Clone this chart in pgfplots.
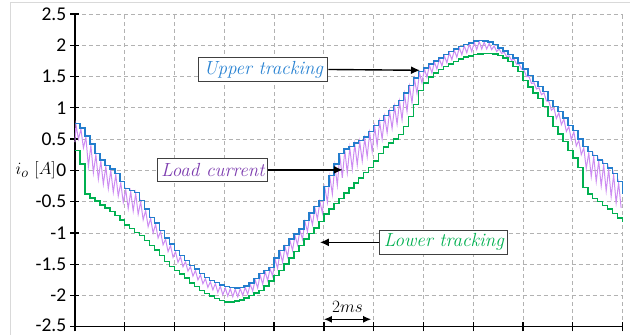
\documentclass[border=0pt]{standalone}
\usepackage{pgfplots}
\pgfplotsset{compat=1.18}
\usepackage{fontspec}
\newfontfamily\carlito{Carlito}
\usetikzlibrary{arrows.meta}
\definecolor{blueline}{RGB}{35,125,205}
\definecolor{greenline}{RGB}{0,176,80}
\definecolor{pinkline}{RGB}{205,140,242}
\definecolor{bluetext}{RGB}{40,130,210}
\definecolor{purpletext}{RGB}{125,60,175}
\definecolor{greentext}{RGB}{0,176,80}
\newcommand{\tl}[1]{{\carlito\fontsize{19.5}{19.5}\selectfont #1}}
\begin{document}
\begin{tikzpicture}
\begin{axis}[
  width=548pt, height=313pt, scale only axis,
  xmin=0, xmax=22, ymin=-2.5, ymax=2.5,
  xtick={0,2,...,22}, xticklabels={},
  ytick={-2.5,-2,-1.5,-1,-0.5,0,0.5,1,1.5,2,2.5},
  yticklabels={\raisebox{3pt}{\tl{-2.5}},\tl{-2},\tl{-1.5},\tl{-1},\tl{-0.5},\tl{0},\tl{0.5},\tl{1},\tl{1.5},\tl{2},\tl{2.5}},
  yticklabel style={inner sep=4pt},
  axis lines*=left,
  axis line style={black, line width=1.3pt},
  tick style={black, line width=1.3pt},
  tick align=center, major tick length=9pt,
  grid=major,
  major grid style={black!30, dash pattern=on 4pt off 3pt, line width=0.8pt},
  clip=false,
]
% load current
\addplot[pinkline, line width=1pt] coordinates {
(0,0.45) (0.04,0.73) (0.14,0.50) (0.24,0.66) (0.34,0.36) (0.44,0.53) (0.54,0.06) (0.64,0.40) (0.74,-0.04)
(0.84,0.25) (0.94,-0.14) (1.04,0.15) (1.14,-0.22) (1.24,0.06) (1.34,-0.29) (1.44,0.00) (1.54,-0.35)
(1.64,-0.07) (1.74,-0.41) (1.84,-0.20) (1.94,-0.51) (2.04,-0.31) (2.14,-0.61) (2.24,-0.34) (2.34,-0.65)
(2.44,-0.37) (2.54,-0.70) (2.64,-0.50) (2.74,-0.79) (2.84,-0.64) (2.94,-0.90) (3.04,-0.77) (3.14,-1.00)
(3.24,-0.86) (3.34,-1.08) (3.44,-0.98) (3.54,-1.19) (3.64,-1.10) (3.74,-1.30) (3.84,-1.20) (3.94,-1.39)
(4.04,-1.30) (4.14,-1.47) (4.24,-1.38) (4.34,-1.54) (4.44,-1.46) (4.54,-1.61) (4.64,-1.54) (4.74,-1.69)
(4.84,-1.60) (4.94,-1.75) (5.04,-1.67) (5.14,-1.81) (5.24,-1.73) (5.34,-1.87) (5.44,-1.78) (5.54,-1.91)
(5.64,-1.81) (5.74,-1.95) (5.84,-1.85) (5.94,-1.99) (6.04,-1.88) (6.14,-2.01) (6.24,-1.89) (6.34,-2.02)
(6.44,-1.90) (6.54,-2.02) (6.64,-1.89) (6.74,-2.00) (6.84,-1.87) (6.94,-1.98) (7.04,-1.82) (7.14,-1.93)
(7.24,-1.75) (7.34,-1.88) (7.44,-1.67) (7.54,-1.82) (7.64,-1.62) (7.74,-1.76) (7.84,-1.57) (7.94,-1.69)
(8.04,-1.42) (8.14,-1.57) (8.24,-1.30) (8.34,-1.47) (8.44,-1.22) (8.54,-1.38) (8.64,-1.12) (8.74,-1.28)
(8.84,-1.04) (8.94,-1.19) (9.04,-0.96) (9.14,-1.10) (9.24,-0.82) (9.34,-0.98) (9.44,-0.70) (9.54,-0.87)
(9.64,-0.60) (9.74,-0.78) (9.84,-0.50) (9.94,-0.68) (10.04,-0.28) (10.14,-0.51) (10.24,-0.10) (10.34,-0.38)
(10.44,0.08) (10.54,-0.24) (10.64,0.25) (10.74,-0.12) (10.84,0.32) (10.94,-0.04) (11.04,0.36) (11.14,0.02)
(11.24,0.42) (11.34,0.09) (11.44,0.46) (11.54,0.15) (11.64,0.51) (11.74,0.22) (11.84,0.60) (11.94,0.30)
(12.04,0.70) (12.14,0.40) (12.24,0.78) (12.34,0.50) (12.44,0.86) (12.54,0.60) (12.64,0.94) (12.74,0.67)
(12.84,1.02) (12.94,0.74) (13.04,1.10) (13.14,0.81) (13.24,1.22) (13.34,0.94) (13.44,1.34) (13.54,1.08)
(13.64,1.46) (13.74,1.23) (13.84,1.56) (13.94,1.40) (14.04,1.62) (14.14,1.49) (14.24,1.68) (14.34,1.56)
(14.44,1.73) (14.54,1.62) (14.64,1.78) (14.74,1.67) (14.84,1.83) (14.94,1.72) (15.04,1.88) (15.14,1.77)
(15.24,1.92) (15.34,1.81) (15.44,1.96) (15.54,1.85) (15.64,1.99) (15.74,1.88) (15.84,2.02) (15.94,1.90)
(16.04,2.05) (16.14,1.93) (16.24,2.06) (16.34,1.94) (16.44,2.05) (16.54,1.94) (16.64,2.03) (16.74,1.93)
(16.84,1.99) (16.94,1.90) (17.04,1.94) (17.14,1.87) (17.24,1.89) (17.34,1.82) (17.44,1.83) (17.54,1.76)
(17.64,1.78) (17.74,1.70) (17.84,1.70) (17.94,1.62) (18.04,1.60) (18.14,1.50) (18.24,1.50) (18.34,1.39)
(18.44,1.40) (18.54,1.30) (18.64,1.32) (18.74,1.21) (18.84,1.24) (18.94,1.11) (19.04,1.10) (19.14,0.96)
(19.24,1.00) (19.34,0.83) (19.44,0.92) (19.54,0.73) (19.64,0.82) (19.74,0.62) (19.84,0.70) (19.94,0.49)
(20.04,0.62) (20.14,0.39) (20.24,0.48) (20.34,0.25) (20.44,0.36) (20.54,0.03) (20.64,0.28) (20.74,-0.10)
(20.84,0.22) (20.94,-0.18) (21.04,0.15) (21.14,-0.25) (21.24,0.09) (21.34,-0.33) (21.44,0.02) (21.54,-0.42)
(21.64,-0.07) (21.74,-0.52) (21.84,-0.20) (21.94,-0.60)
};
% lower tracking
\addplot[const plot, greenline, line width=1.5pt] coordinates {
(0,0.32) (0.2,0.10) (0.4,-0.38) (0.6,-0.44) (0.8,-0.49) (1.0,-0.55) (1.2,-0.60) (1.4,-0.66) (1.6,-0.72)
(1.8,-0.79) (2.0,-0.87) (2.2,-0.93) (2.4,-0.99) (2.6,-1.04) (2.8,-1.12) (3.0,-1.20) (3.2,-1.27) (3.4,-1.36)
(3.6,-1.46) (3.8,-1.54) (4.0,-1.60) (4.2,-1.66) (4.4,-1.72) (4.6,-1.80) (4.8,-1.86) (5.0,-1.92) (5.2,-1.97)
(5.4,-2.01) (5.6,-2.05) (5.8,-2.08) (6.0,-2.10) (6.2,-2.10) (6.4,-2.09) (6.6,-2.07) (6.8,-2.04) (7.0,-2.00)
(7.2,-1.96) (7.4,-1.92) (7.6,-1.85) (7.8,-1.77) (8.0,-1.68) (8.2,-1.60) (8.4,-1.50) (8.6,-1.40) (8.8,-1.30)
(9.0,-1.20) (9.2,-1.10) (9.4,-1.01) (9.6,-0.92) (9.8,-0.82) (10.0,-0.70) (10.2,-0.62) (10.4,-0.53) (10.6,-0.45)
(10.8,-0.36) (11.0,-0.28) (11.2,-0.20) (11.4,-0.12) (11.6,-0.03) (11.8,0.05) (12.0,0.15) (12.2,0.27) (12.4,0.37)
(12.6,0.44) (12.8,0.50) (13.0,0.57) (13.2,0.70) (13.4,0.86) (13.6,1.05) (13.8,1.28) (14.0,1.40) (14.2,1.49)
(14.4,1.56) (14.6,1.61) (14.8,1.66) (15.0,1.70) (15.2,1.74) (15.4,1.78) (15.6,1.81) (15.8,1.83) (16.0,1.85)
(16.2,1.86) (16.4,1.87) (16.6,1.87) (16.8,1.86) (17.0,1.84) (17.2,1.80) (17.4,1.74) (17.6,1.66) (17.8,1.58)
(18.0,1.44) (18.2,1.33) (18.4,1.24) (18.6,1.15) (18.8,1.02) (19.0,0.86) (19.2,0.70) (19.4,0.58) (19.6,0.46)
(19.8,0.32) (20.0,0.20) (20.2,0.05) (20.4,-0.27) (20.6,-0.38) (20.8,-0.45) (21.0,-0.50) (21.2,-0.56)
(21.4,-0.62) (21.6,-0.69) (21.8,-0.76) (22.0,-0.83)
};
% upper tracking
\addplot[const plot, blueline, line width=1.5pt] coordinates {
(0,0.75) (0.2,0.68) (0.4,0.55) (0.6,0.42) (0.8,0.27) (1.0,0.17) (1.2,0.08) (1.4,0.02) (1.6,-0.05)
(1.8,-0.18) (2.0,-0.29) (2.2,-0.32) (2.4,-0.35) (2.6,-0.48) (2.8,-0.62) (3.0,-0.75) (3.2,-0.84) (3.4,-0.96)
(3.6,-1.08) (3.8,-1.18) (4.0,-1.28) (4.2,-1.36) (4.4,-1.44) (4.6,-1.52) (4.8,-1.58) (5.0,-1.65) (5.2,-1.71)
(5.4,-1.76) (5.6,-1.79) (5.8,-1.83) (6.0,-1.86) (6.2,-1.87) (6.4,-1.88) (6.6,-1.87) (6.8,-1.85) (7.0,-1.80)
(7.2,-1.73) (7.4,-1.65) (7.6,-1.60) (7.8,-1.55) (8.0,-1.40) (8.2,-1.28) (8.4,-1.20) (8.6,-1.10) (8.8,-1.02)
(9.0,-0.94) (9.2,-0.80) (9.4,-0.68) (9.6,-0.58) (9.8,-0.48) (10.0,-0.26) (10.2,-0.08) (10.4,0.10) (10.6,0.27)
(10.8,0.34) (11.0,0.38) (11.2,0.44) (11.4,0.48) (11.6,0.53) (11.8,0.62) (12.0,0.72) (12.2,0.80) (12.4,0.88)
(12.6,0.96) (12.8,1.04) (13.0,1.12) (13.2,1.24) (13.4,1.36) (13.6,1.48) (13.8,1.58) (14.0,1.64) (14.2,1.70)
(14.4,1.75) (14.6,1.80) (14.8,1.85) (15.0,1.90) (15.2,1.94) (15.4,1.98) (15.6,2.01) (15.8,2.04) (16.0,2.07)
(16.2,2.08) (16.4,2.07) (16.6,2.05) (16.8,2.01) (17.0,1.96) (17.2,1.91) (17.4,1.85) (17.6,1.80) (17.8,1.72)
(18.0,1.62) (18.2,1.52) (18.4,1.42) (18.6,1.34) (18.8,1.26) (19.0,1.12) (19.2,1.02) (19.4,0.94) (19.6,0.84)
(19.8,0.72) (20.0,0.64) (20.2,0.50) (20.4,0.38) (20.6,0.30) (20.8,0.24) (21.0,0.17) (21.2,0.11) (21.4,0.04)
(21.6,-0.05) (21.8,-0.18) (22.0,-0.37)
};
% annotations
\tikzset{annbox/.style={draw=black!75, line width=1.1pt, fill=white, inner sep=0pt,
  font=\itshape\fontsize{19}{21}\selectfont},
  annarrow/.style={-{Latex[length=9pt,width=8pt]}, line width=1.4pt}}
\node[annbox, minimum width=129pt, minimum height=24pt, text=bluetext] (up) at (axis cs:7.57,1.613) {Upper tracking};
\draw[annarrow] (up.east) -- (axis cs:13.86,1.60);
\node[annbox, minimum width=110pt, minimum height=23pt, text=purpletext] (lc) at (axis cs:5.54,0.008) {Load current};
\draw[annarrow] (lc.east) -- (axis cs:10.76,0.008);
\node[annbox, minimum width=128pt, minimum height=24pt, text=greentext] (lo) at (axis cs:14.82,-1.15) {Lower tracking};
\draw[annarrow] (lo.west) -- (axis cs:9.84,-1.15);
\draw[{Latex[length=8pt,width=7pt]}-{Latex[length=8pt,width=7pt]}, line width=1.4pt] (axis cs:10,-2.38) -- (axis cs:11.9,-2.38);
\node[font=\fontsize{18}{20}\selectfont] at (axis cs:10.95,-2.18) {$2ms$};
\node[anchor=east, inner sep=0pt, font=\fontsize{19}{21}\selectfont] at ([xshift=-19pt]axis cs:0,0) {$i_o\ [A]$};
\end{axis}
\pgfresetboundingbox
\draw[black!15, line width=0.8pt] ([shift={(-65pt,-8pt)}]current axis.south west) -- ([shift={(-65pt,325pt)}]current axis.south west) -- ([shift={(555pt,325pt)}]current axis.south west);
\path ([shift={(-75pt,-8pt)}]current axis.south west) rectangle ([shift={(7pt,14pt)}]current axis.north east);
\end{tikzpicture}
\end{document}
